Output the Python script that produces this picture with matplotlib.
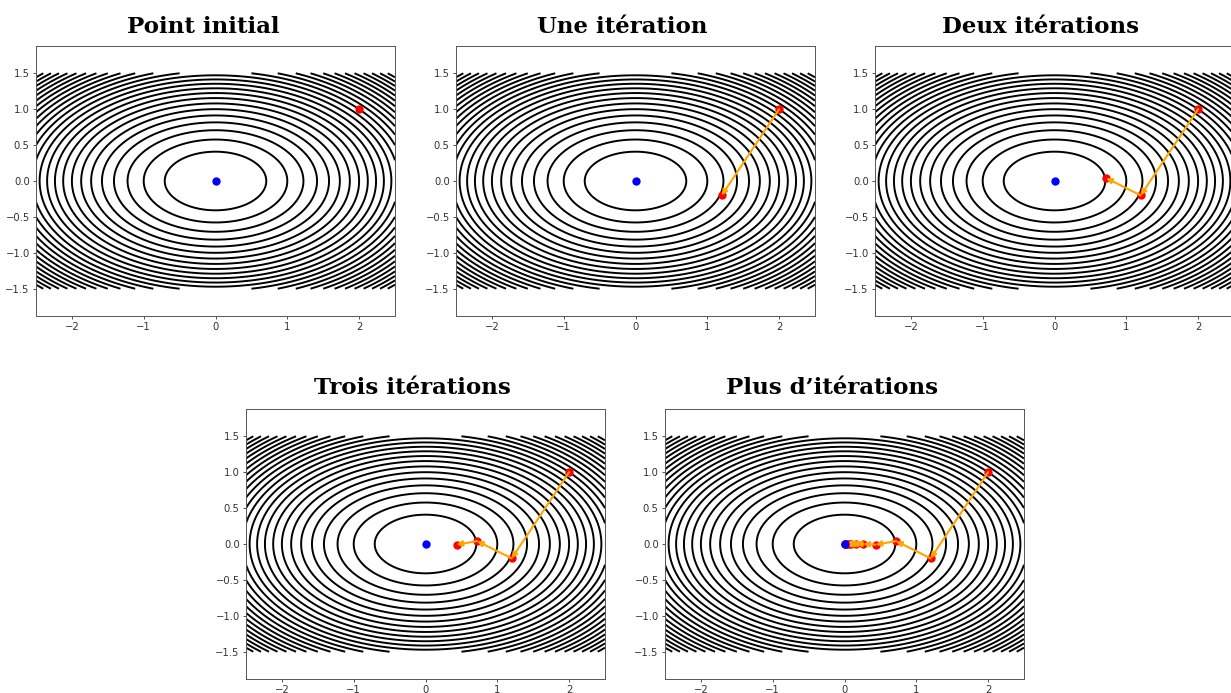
import numpy as np
from matplotlib import pyplot as plt

# Panel titles
titles = ['Point initial', 'Une itération', 'Deux itérations',
          'Trois itérations', 'Plus d\u2019itérations']

# Gradient descent iterates
path_x = [2.0, 1.2, 0.72, 0.432, 0.259, 0.156, 0.093, 0.056, 0.034, 0.020, 0.012, 0.007]
path_y = [1.0, -0.2, 0.04, -0.008, 0.002, 0.0, 0.0, 0.0, 0.0, 0.0, 0.0, 0.0]

# Number of iterates shown in each panel
n_shown = [1, 2, 3, 4, 12]

# Minimum
min_x = [0.0]
min_y = [0.0]

# Contour surface
xs = np.linspace(-2.5, 2.5, 400)
ys = np.linspace(-1.5, 1.5, 300)
X, Y = np.meshgrid(xs, ys)
Z = X ** 2 + 3 * Y ** 2
levels = np.arange(0.5, 13.5, 0.5)

W, H = 1231, 693
fig = plt.figure(figsize=(W / 100, H / 100), dpi=100)

# axes boxes in pixels: left, top ; title center x, title baseline y
boxes = [(36, 46, 203, 33), (456, 46, 622, 33), (875, 46, 1041, 33),
         (246, 409, 412, 394), (665, 409, 832, 394)]
aw, ah = 359, 270

for i, (left, top, tx, ty) in enumerate(boxes):
    ax = fig.add_axes([left / W, 1 - (top + ah) / H, aw / W, ah / H])
    ax.contour(X, Y, Z, levels=levels, colors='black', linewidths=1.4)

    n = n_shown[i]
    px, py = path_x[:n], path_y[:n]
    ax.plot(px, py, 'o', color='red', markersize=5, zorder=3)
    for k in range(n - 1):
        ax.annotate('', xy=(px[k + 1], py[k + 1]), xytext=(px[k], py[k]),
                    arrowprops=dict(arrowstyle='-|>', color='orange', lw=1.5,
                                    mutation_scale=8, shrinkA=0, shrinkB=0),
                    zorder=4)
    ax.plot(min_x, min_y, 'o', color='blue', markersize=5, zorder=5)

    ax.set_xlim(-2.5, 2.5)
    ax.set_ylim(-1.88, 1.88)
    ax.set_xticks([-2, -1, 0, 1, 2])
    ax.set_yticks([-1.5, -1.0, -0.5, 0.0, 0.5, 1.0, 1.5])
    ax.tick_params(labelsize=7.2, length=2.5, width=0.6, pad=2,
                   colors='#333333')
    for s in ax.spines.values():
        s.set_linewidth(0.7)
        s.set_color('#555555')

    fig.text(tx / W, 1 - ty / H, titles[i], ha='center', va='baseline',
             fontsize=16.5, fontweight='bold', family='DejaVu Serif')

fig.savefig('out.png', dpi=100)
